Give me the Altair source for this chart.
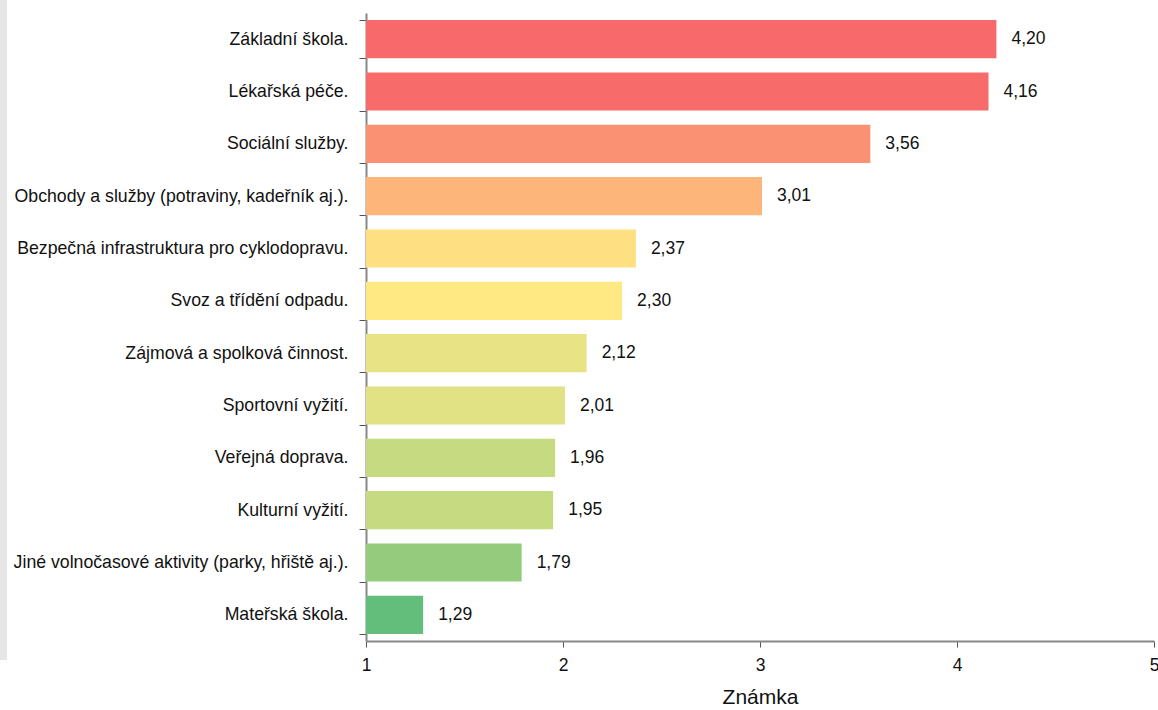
import altair as alt
import pandas as pd

# Hodnocení služeb v obci (průměrná známka)
categories = [
    "Základní škola.",
    "Lékařská péče.",
    "Sociální služby.",
    "Obchody a služby (potraviny, kadeřník aj.).",
    "Bezpečná infrastruktura pro cyklodopravu.",
    "Svoz a třídění odpadu.",
    "Zájmová a spolková činnost.",
    "Sportovní vyžití.",
    "Veřejná doprava.",
    "Kulturní vyžití.",
    "Jiné volnočasové aktivity (parky, hřiště aj.).",
    "Mateřská škola.",
]
grades = [4.20, 4.16, 3.56, 3.01, 2.37, 2.30, 2.12, 2.01, 1.96, 1.95, 1.79, 1.29]
x_ticks = [1, 2, 3, 4, 5]

# red (worst) → yellow → green (best) fill for each service
palette = [
    "#F8696B", "#F86B6B", "#FA9172", "#FDB57A", "#FEDF82", "#FEE983",
    "#E8E384", "#E0E283", "#C5DA81", "#C5DA81", "#94CB7D", "#63BE7B",
]

df = pd.DataFrame({"sluzba": categories, "znamka": grades})

FONT = "Liberation Sans, Arial, sans-serif"
INK = "#111111"
W, H = 788, 628

y_enc = alt.Y(
    "sluzba:N",
    sort=categories,
    title=None,
    scale=alt.Scale(paddingInner=0.27, paddingOuter=0.135),
    axis=alt.Axis(
        labelFont=FONT,
        labelFontSize=17.7,
        labelColor=INK,
        labelPadding=11,
        labelLimit=400,
        tickBand="extent",
        tickSize=7,
        tickColor="#555555",
        domainColor="#888888",
        domainWidth=2,
        grid=False,
    ),
)

x_scale = alt.Scale(domain=[1, 5], zero=False, nice=False)

bars = alt.Chart(df).mark_bar().encode(
    x=alt.X(
        "znamka:Q",
        scale=x_scale,
        title="Známka",
        axis=alt.Axis(
            values=x_ticks,
            format="d",
            labelFont=FONT,
            labelFontSize=17.5,
            labelColor=INK,
            labelPadding=9,
            labelFlush=False,
            tickSize=6,
            tickColor="#555555",
            domainColor="#888888",
            domainWidth=2,
            grid=False,
            titleFont=FONT,
            titleFontSize=21,
            titleFontWeight="normal",
            titleColor=INK,
            titlePadding=13,
        ),
    ),
    x2=alt.datum(1),
    y=y_enc,
    color=alt.Color(
        "sluzba:N", scale=alt.Scale(domain=categories, range=palette), legend=None
    ),
)

labels = alt.Chart(df).transform_calculate(
    popis="replace(format(datum.znamka, '.2f'), '.', ',')"
).mark_text(
    align="left", baseline="middle", dx=15, font=FONT, fontSize=17.5, color=INK
).encode(
    x=alt.X("znamka:Q", scale=x_scale),
    y=alt.Y("sluzba:N", sort=categories),
    text="popis:N",
)

# light grey strip along the left page edge
strip = alt.Chart(alt.Data(values=[{}])).mark_rect(color="#E6E6E6").encode(
    x=alt.value(-366), x2=alt.value(-359), y=alt.value(-13), y2=alt.value(647)
)

chart = alt.layer(strip, bars, labels).properties(
    width=W,
    height=H,
    autosize=alt.AutoSizeParams(type="none"),
    padding={"left": 366, "top": 13, "right": 4, "bottom": 69},
).configure_view(stroke=None)

chart.save("out.html", embed_options={"renderer": "svg", "actions": False})
